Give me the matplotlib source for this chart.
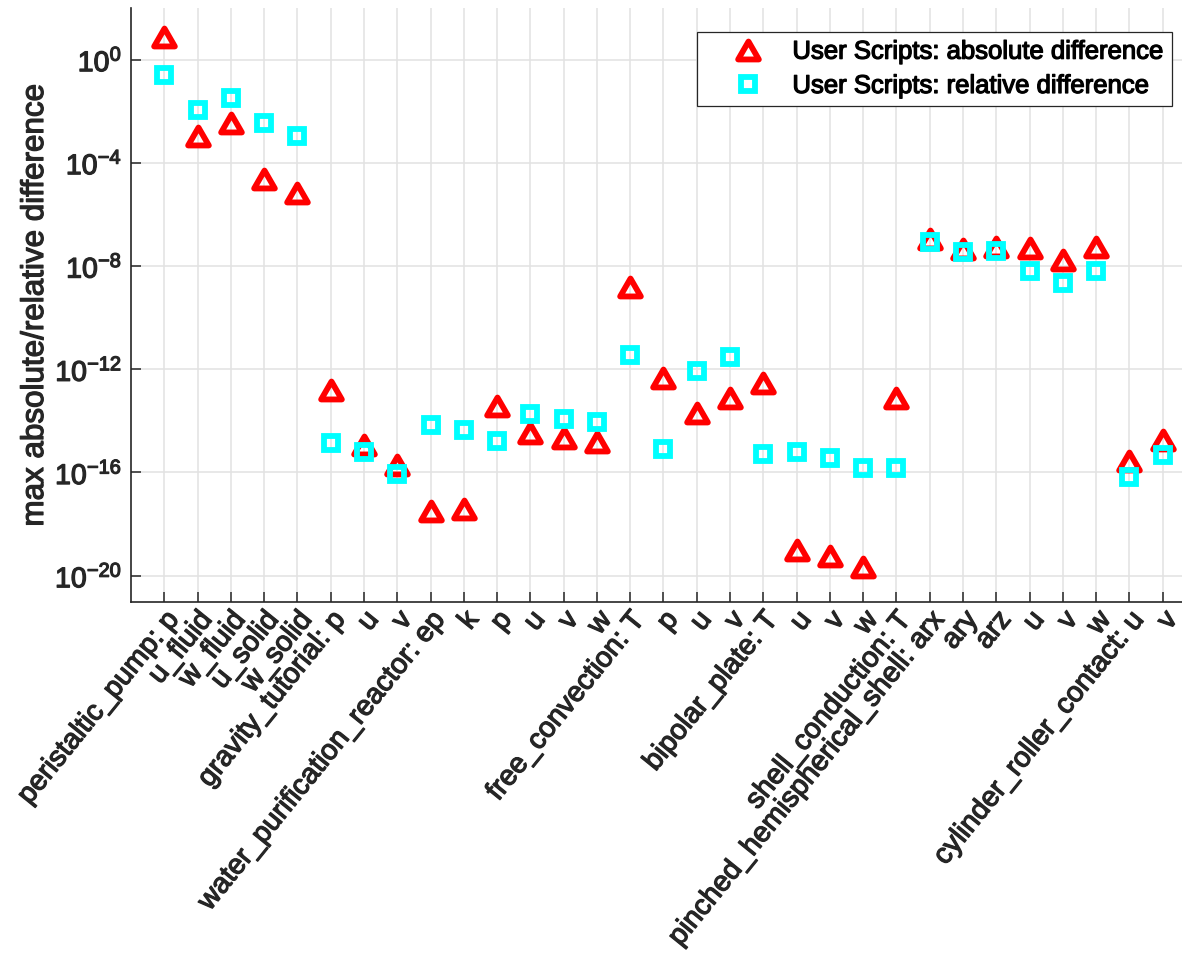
import numpy as np
import matplotlib
matplotlib.use("Agg")
import matplotlib.pyplot as plt
import matplotlib.patheffects as pe
from matplotlib.markers import MarkerStyle
from matplotlib.path import Path
from matplotlib.ticker import NullLocator

# test case / field names along the x axis
labels = [
    "peristaltic_pump: p", "u_fluid", "w_fluid", "u_solid", "w_solid",
    "gravity_tutorial: p", "u", "v",
    "water_purification_reactor: ep", "k", "p", "u", "v", "w",
    "free_convection: T", "p", "u", "v",
    "bipolar_plate: T", "u", "v", "w",
    "shell_conduction: T",
    "pinched_hemispherical_shell: arx", "ary", "arz", "u", "v", "w",
    "cylinder_roller_contact: u", "v",
]

# max absolute difference per field
abs_diff = [
    7.8, 1.1e-3, 3.5e-3, 2.3e-5, 6.9e-6,
    1.6e-13, 1.2e-15, 1.9e-16,
    3.2e-18, 3.8e-18, 3.7e-14, 3.5e-15, 2.2e-15, 1.5e-15,
    1.6e-9, 4.5e-13, 2.1e-14, 7.9e-14,
    3.0e-13, 1.0e-19, 6.0e-20, 2.1e-20,
    7.6e-14,
    1.1e-7, 4.5e-8, 5.6e-8, 5.1e-8, 1.7e-8, 5.6e-8,
    2.8e-16, 1.8e-15,
]

# max relative difference per field
rel_diff = [
    0.25, 1.1e-2, 3.3e-2, 3.4e-3, 1.05e-3,
    1.4e-15, 6.0e-16, 8.9e-17,
    6.8e-15, 4.6e-15, 1.7e-15, 1.9e-14, 1.15e-14, 8.7e-15,
    3.5e-12, 7.8e-16, 8.5e-13, 3.1e-12,
    5.1e-16, 6.0e-16, 3.6e-16, 1.5e-16,
    1.5e-16,
    8.5e-8, 3.4e-8, 3.9e-8, 6.3e-9, 2.3e-9, 6.3e-9,
    6.9e-17, 4.8e-16,
]

yticks = [1e-20, 1e-16, 1e-12, 1e-8, 1e-4, 1e0]

plt.rcParams['font.family'] = 'Liberation Sans'
plt.rcParams['mathtext.fontset'] = 'custom'
plt.rcParams['mathtext.rm'] = 'Liberation Sans'
plt.rcParams['mathtext.it'] = 'Liberation Sans:italic'
plt.rcParams['mathtext.bf'] = 'Liberation Sans:bold'

axcol = '#262626'
heavy = [pe.withStroke(linewidth=0.9, foreground=axcol)]

fig = plt.figure(figsize=(11.82, 9.57), dpi=100)
# axes run past the right edge of the figure
ax = fig.add_axes([131 / 1182, (957 - 601.5) / 957, 32 * 33.28 / 1182, (601.5 - 8) / 957])
ax.set_yscale('log')

x = np.arange(1, len(labels) + 1)

# equilateral triangle, centred on its bounding box
tri = MarkerStyle(Path([(0, 0.433), (-0.5, -0.433), (0.5, -0.433), (0, 0.433)], closed=True),
                  joinstyle='miter')
sq = MarkerStyle('s', joinstyle='miter')

ax.plot(x, abs_diff, ls='none', marker=tri, ms=14.9, mew=4.2, mec='red', mfc='none',
        label='User Scripts: absolute difference')
ax.plot(x, rel_diff, ls='none', marker=sq, ms=9.6, mew=4.2, mec='cyan', mfc='none',
        label='User Scripts: relative difference')

ax.set_xlim(0, 32)
ax.set_ylim(1e-21, 1e2)
ax.set_xticks(x)
ax.set_xticklabels(labels, rotation=51, ha='right', va='top', rotation_mode='anchor',
                   fontsize=20.5)
ax.set_yticks(yticks)
ax.yaxis.set_minor_locator(NullLocator())

ax.grid(True, color='#e2e2e2', lw=1.1)
ax.set_axisbelow(True)
for side in ['top', 'right']:
    ax.spines[side].set_visible(False)
for side in ['left', 'bottom']:
    ax.spines[side].set_color(axcol)
    ax.spines[side].set_linewidth(1.2)

ax.tick_params(direction='in', length=7.2, width=1.1, color=axcol,
               labelcolor=axcol, top=False, right=False)
ax.tick_params(axis='x', pad=4)
ax.tick_params(axis='y', pad=6.5, labelsize=20.5)

ax.set_ylabel('max absolute/relative difference', fontsize=22.6, color=axcol, va='center')
ax.yaxis.set_label_coords((35 - 131) / (32 * 33.28), 0.5)
ax.yaxis.label.set_path_effects(heavy)

for lbl in ax.get_xticklabels() + ax.get_yticklabels():
    lbl.set_path_effects(heavy)

leg = ax.legend(loc='upper right', bbox_to_anchor=(1172 / 1182, 1 - 32 / 957),
                bbox_transform=fig.transFigure, borderaxespad=0, fontsize=18.5,
                frameon=True, fancybox=False, edgecolor=axcol, framealpha=1,
                borderpad=0.3, labelspacing=0.4, handlelength=3.35, handletextpad=0.05)
leg.get_frame().set_linewidth(0.9)
for t in leg.get_texts():
    t.set_color('black')
    t.set_path_effects([pe.withStroke(linewidth=0.9, foreground='black')])

fig.savefig('out.png', dpi=100)
